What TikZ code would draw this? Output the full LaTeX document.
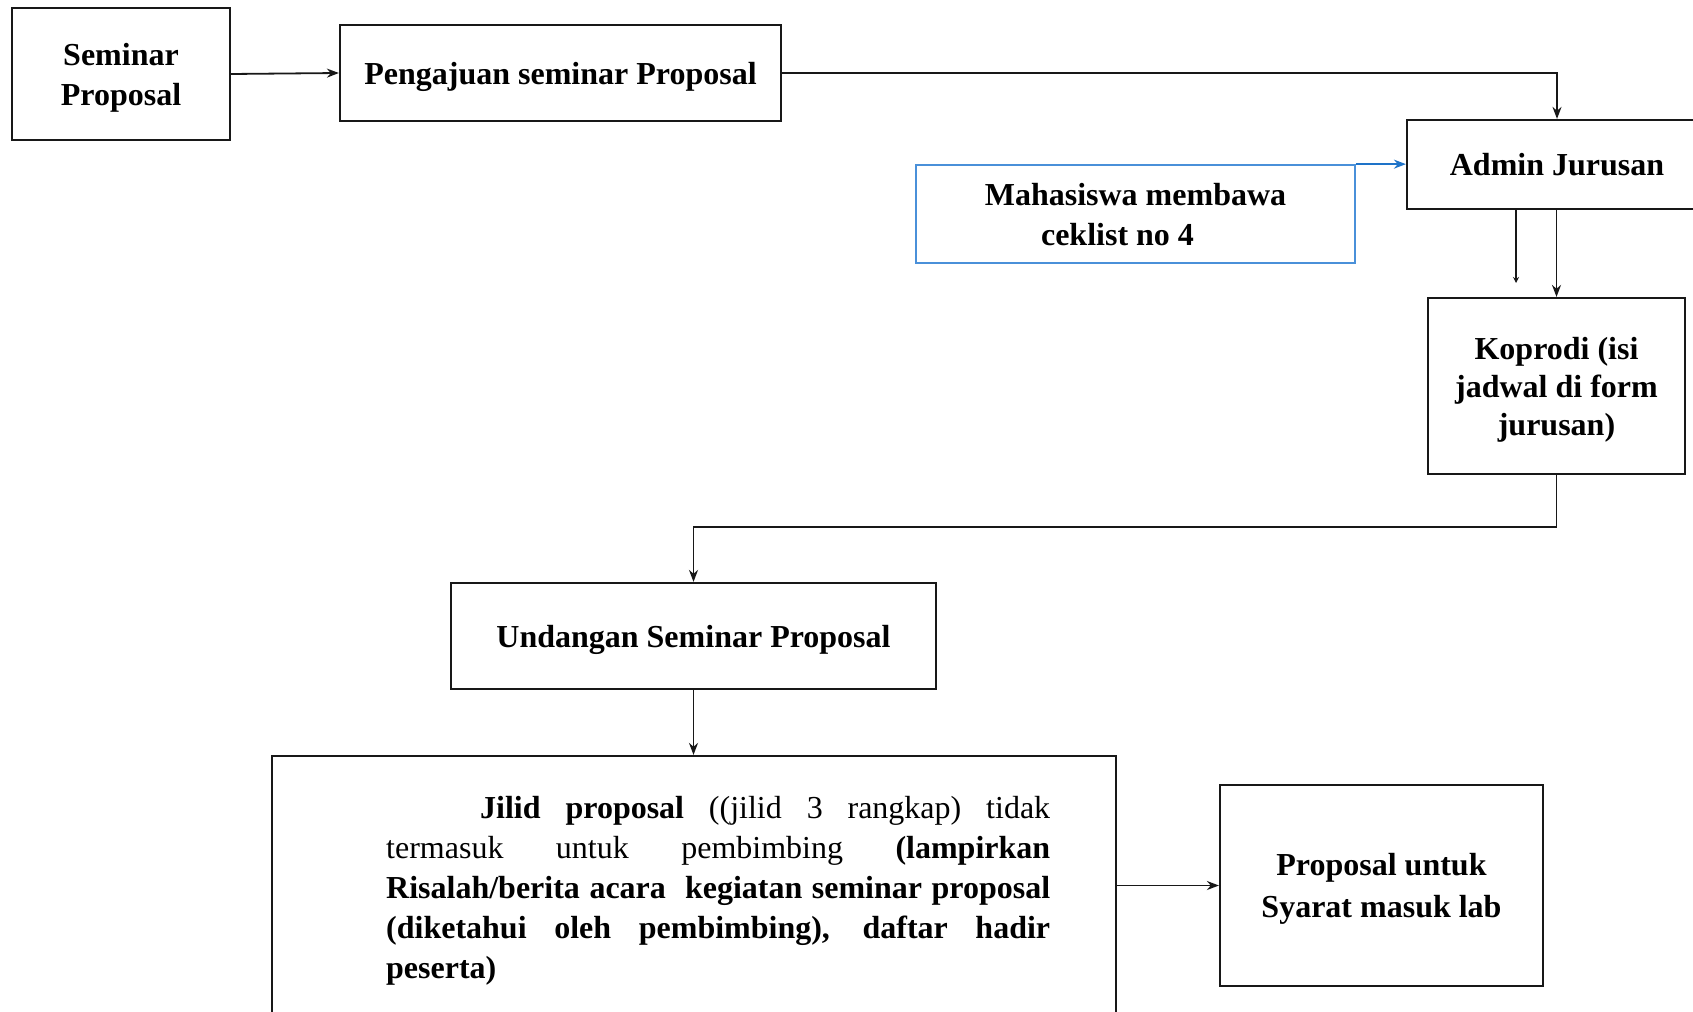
\documentclass[tikz,border=0pt]{standalone}
\usepackage{fontspec}
\setmainfont{Liberation Serif}
\usetikzlibrary{arrows.meta,calc}
\definecolor{ink}{RGB}{24,24,24}
\definecolor{flowblue}{RGB}{74,144,217}
\definecolor{flowbluedark}{RGB}{30,115,200}
\begin{document}
\begin{tikzpicture}[x=1pt,y=-1pt,
  box/.style={draw=ink,line width=2.2pt,rectangle,inner sep=0pt,align=center,
    text depth=0pt,font=\fontsize{32}{40}\selectfont\bfseries},
  bluebox/.style={box,draw=flowblue,line width=1.7pt},
  arr/.style={draw=ink,line width=1.8pt,-{Stealth[length=12pt,width=9pt]}},
  shortarr/.style={draw=ink,line width=1.8pt,-{Stealth[length=6pt,width=6pt]}},
  bluearr/.style={draw=flowbluedark,line width=1.8pt,-{Stealth[length=12pt,width=9pt]}},
]
\useasboundingbox (0,0) rectangle (1693,1011);
\begin{scope}
\clip (0,0) rectangle (1693,1011);

% process boxes
\node[box,minimum width=218pt,minimum height=132pt] (sem) at (121,74) {Seminar\\Proposal};
\node[box,minimum width=441pt,minimum height=96pt] (peng) at (560.5,73) {Pengajuan seminar Proposal};
\node[box,minimum width=300pt,minimum height=89pt] (admin) at (1557,164.5) {Admin Jurusan};
\node[bluebox,minimum width=439pt,minimum height=98pt] (maha) at (1135.5,214) {Mahasiswa membawa\\ceklist no 4\hspace*{36pt}};
\node[box,minimum width=257pt,minimum height=176pt,font=\fontsize{32}{38}\selectfont\bfseries] (kop) at (1556.5,386) {Koprodi (isi\\jadwal di form\\jurusan)};
\node[box,minimum width=485pt,minimum height=106pt] (und) at (693.5,636) {Undangan Seminar Proposal};
\node[box,minimum width=844pt,minimum height=258pt] (jil) at (694,885) {};
\node[box,minimum width=323pt,minimum height=201pt,font=\fontsize{32}{42}\selectfont\bfseries] (prop) at (1381.5,885.5) {Proposal untuk\\Syarat masuk lab};

% justified paragraph inside the binding box
\node[anchor=north west,inner sep=0pt,text width=664pt,align=justify,
  font=\fontsize{32}{40}\selectfont] (jiltext) at (386,796)
  {\tolerance=10000\hyphenpenalty=10000\hspace*{94pt}\textbf{Jilid proposal} ((jilid 3 rangkap) tidak\linebreak
   termasuk untuk pembimbing \textbf{(lampirkan\linebreak
   Risalah/berita acara\ \ kegiatan seminar proposal\linebreak
   (diketahui oleh pembimbing), daftar hadir\linebreak
   peserta)}};

% connectors
\coordinate (stub) at (1516,283);
\draw[arr] (sem.east) -- (peng.west);
\draw[arr] (peng.east) -| (admin.north);
\draw[bluearr] (maha.north east) -- (maha.north east -| admin.west);
\draw[shortarr] (admin.south -| stub) -- (stub);
\draw[arr] (admin.south -| kop.north) -- (kop.north);
\draw[arr] (kop.south) -- ++(0,52) -| (und.north);
\draw[arr] (und.south) -- (und.south |- jil.north);
\draw[arr] (jil.east |- prop.west) -- (prop.west);
\end{scope}
\end{tikzpicture}
\end{document}
